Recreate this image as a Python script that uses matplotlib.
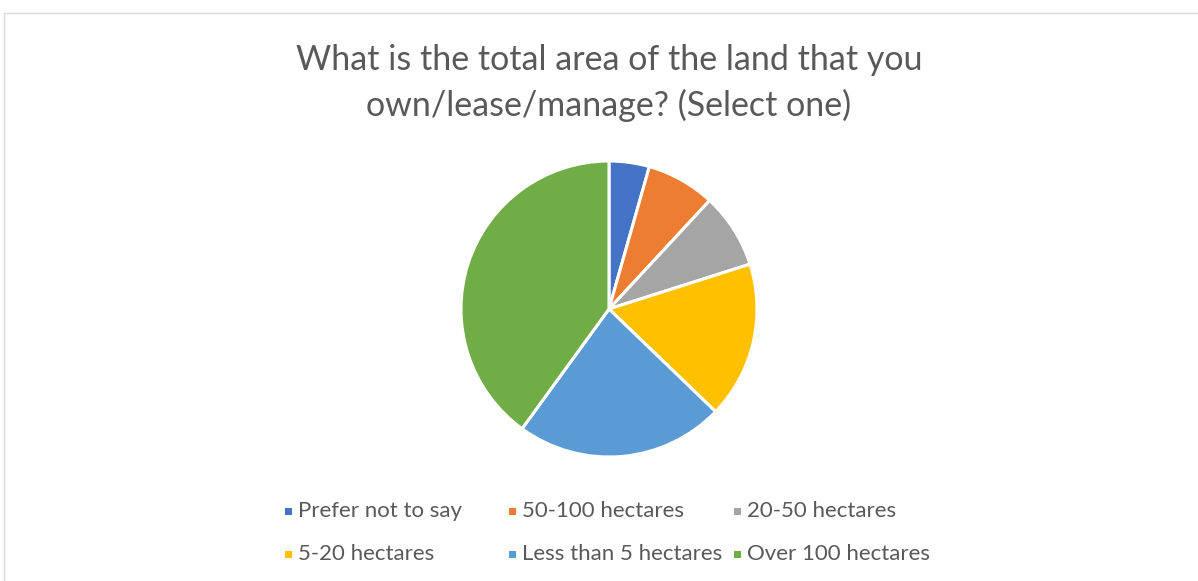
import matplotlib.pyplot as plt
from matplotlib.patches import Rectangle

# survey answers, percent of respondents
labels = ["Prefer not to say", "50-100 hectares", "20-50 hectares",
          "5-20 hectares", "Less than 5 hectares", "Over 100 hectares"]
shares = [4.4, 7.5, 8.2, 17.1, 22.8, 40.0]
colors = ["#4472C4", "#ED7D31", "#A5A5A5", "#FFC000", "#5B9BD5", "#70AD47"]

title = "What is the total area of the land that you\nown/lease/manage? (Select one)"
text_color = "#595959"

W, H = 1198, 581
fig = plt.figure(figsize=(W / 100, H / 100), dpi=100)
fig.patch.set_facecolor("white")

# chart frame
fig.add_artist(Rectangle((4 / W, -0.05), 1.1, 1 - 13 / H + 0.05, transform=fig.transFigure,
                         fill=False, edgecolor="#D9D9D9", linewidth=1.0))

# pie centred at (609, 309) px with radius 148 px
cx, cy, r = 609, 309, 148
ax = fig.add_axes([(cx - r) / W, (H - cy - r) / H, 2 * r / W, 2 * r / H])
ax.pie(shares, colors=colors, startangle=90, counterclock=False, radius=1,
       wedgeprops=dict(edgecolor="white", linewidth=2.2))
ax.set_xlim(-1.0, 1.0)
ax.set_ylim(-1.0, 1.0)
ax.set_aspect("equal")
ax.axis("off")

fig.text(609 / W, 1 - 83 / H, title, ha="center", va="center", fontsize=24.5,
         color=text_color, family="Lato", linespacing=1.5)

# legend laid out in a 3x2 grid
x0, dx = 288, 224.5
rows_y = [511, 554]
for i, (lab, col) in enumerate(zip(labels, colors)):
    x = x0 + (i % 3) * dx
    y = rows_y[i // 3]
    fig.add_artist(Rectangle(((x - 3.5) / W, 1 - (y + 3.5) / H), 7 / W, 7 / H,
                             transform=fig.transFigure, facecolor=col, edgecolor="none"))
    fig.text((x + 10) / W, 1 - y / H, lab, ha="left", va="center", fontsize=16,
             color=text_color, family="Lato")

fig.savefig("out.png", dpi=100, facecolor="white")
